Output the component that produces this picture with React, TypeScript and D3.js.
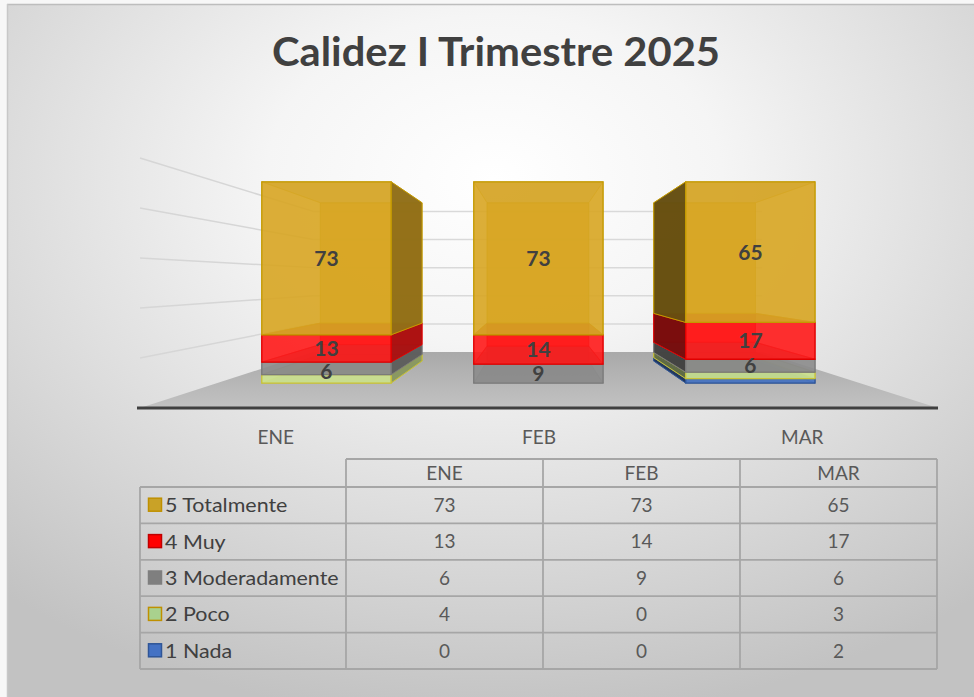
import React from "react";
import * as d3 from "d3";

const categories = ["ENE", "FEB", "MAR"];
const seriesNames = ["1 Nada", "2 Poco", "3 Moderadamente", "4 Muy", "5 Totalmente"];
const nada = [0, 0, 2];
const poco = [4, 0, 3];
const moderadamente = [6, 9, 6];
const muy = [13, 14, 17];
const totalmente = [73, 73, 65];
const seriesValues = [nada, poco, moderadamente, muy, totalmente];
const gridTicks = [0.2, 0.4, 0.6, 0.8, 1];
const title = "Calidez I Trimestre 2025";

const seriesFill = ["#4472C4", "#CDE38F", "#8C8C8C", "#FF1A1A", "#D8A623"];
const seriesEdge = ["#2F5597", "#C9C236", "#7A7A7A", "#E00000", "#C49A00"];
const legendFill = ["#4472C4", "#A9D18E", "#7F7F7F", "#FF0000", "#C9A227"];
const legendEdge = ["#2F5597", "#BF9000", "#7F7F7F", "#C00000", "#BF9000"];

const FONT = "Lato, 'Open Sans', sans-serif";

type P = [number, number];

export default function App() {
  const W = 974, H = 697;
  const VP: P = [536, 280];
  const S_BAR_FRONT = 0.805, S_BAR_BACK = 0.633, S_WALL = 0.5625;
  const floorLeft = 140, floorRight = 938;
  const x = d3.scaleBand<string>().domain(categories).range([144, 934]);
  const barW = x.bandwidth() * 0.61;
  const y = d3.scaleLinear().domain([0, 1]).range([408, 158]);
  const proj = (X: number, Y: number, s: number): P => [VP[0] + (X - VP[0]) * s, VP[1] + (Y - VP[1]) * s];
  const poly = (pts: P[]) => "M" + pts.map((p) => p[0].toFixed(2) + "," + p[1].toFixed(2)).join("L") + "Z";

  const rows = categories.map((c, i) => {
    const o: any = { cat: c };
    seriesNames.forEach((n, j) => (o[n] = seriesValues[j][i]));
    return o;
  });
  const stacked = d3.stack<any>().keys(seriesNames).offset(d3.stackOffsetExpand)(rows);

  const floorPts: P[] = [
    proj(floorLeft, y(0), 1),
    proj(floorRight, y(0), 1),
    proj(floorRight, y(0), S_WALL),
    proj(floorLeft, y(0), S_WALL),
  ];

  const bars: React.ReactNode[] = [];
  const labels: React.ReactNode[] = [];
  const LABEL_GAP = 23;
  categories.forEach((c, i) => {
    const X0 = (x(c) as number) + (x.bandwidth() - barW) / 2;
    const X1 = X0 + barW;
    const catLabels: { key: string; x: number; y: number; v: number }[] = [];
    seriesNames.forEach((n, j) => {
      const [lo, hi] = stacked[j][i];
      const v = seriesValues[j][i];
      if (v <= 0) return;
      const Y0 = y(lo), Y1 = y(hi);
      const sf = S_BAR_FRONT, sb = S_BAR_BACK;
      const base = seriesFill[j];
      const edge = seriesEdge[j];
      const key = `${c}-${n}`;
      const back: P[] = [proj(X0, Y1, sb), proj(X1, Y1, sb), proj(X1, Y0, sb), proj(X0, Y0, sb)];
      const bottom: P[] = [proj(X0, Y0, sf), proj(X1, Y0, sf), proj(X1, Y0, sb), proj(X0, Y0, sb)];
      const top: P[] = [proj(X0, Y1, sf), proj(X1, Y1, sf), proj(X1, Y1, sb), proj(X0, Y1, sb)];
      const left: P[] = [proj(X0, Y1, sf), proj(X0, Y1, sb), proj(X0, Y0, sb), proj(X0, Y0, sf)];
      const right: P[] = [proj(X1, Y1, sf), proj(X1, Y1, sb), proj(X1, Y0, sb), proj(X1, Y0, sf)];
      const front: P[] = [proj(X0, Y1, sf), proj(X1, Y1, sf), proj(X1, Y0, sf), proj(X0, Y0, sf)];
      const leftExterior = X0 > VP[0];
      const rightExterior = X1 < VP[0];
      const darkTB = d3.color(base)!.darker(0.6).formatHex();
      bars.push(
        <g key={key}>
          <path d={poly(back)} fill={base} fillOpacity={0.9} stroke={edge} strokeWidth={1} strokeOpacity={0.6} />
          <path d={poly(bottom)} fill={darkTB} fillOpacity={0.5} stroke={edge} strokeWidth={0.8} strokeOpacity={0.5} />
          <path d={poly(top)} fill={darkTB} fillOpacity={0.5} stroke={edge} strokeWidth={0.8} strokeOpacity={0.5} />
          {!leftExterior && <path d={poly(left)} fill={base} fillOpacity={0.4} stroke={edge} strokeWidth={0.8} strokeOpacity={0.5} />}
          {!rightExterior && <path d={poly(right)} fill={base} fillOpacity={0.4} stroke={edge} strokeWidth={0.8} strokeOpacity={0.5} />}
          {leftExterior && <path d={poly(left)} fill={d3.color(base)!.darker(2.2).formatHex()} fillOpacity={0.95} stroke={edge} strokeWidth={1} />}
          {rightExterior && <path d={poly(right)} fill={d3.color(base)!.darker(1.15).formatHex()} fillOpacity={0.95} stroke={edge} strokeWidth={1} />}
          <path d={poly(front)} fill={base} fillOpacity={0.84} stroke={edge} strokeWidth={1.3} />
        </g>
      );
      if (v >= 5) {
        const [lx, ly] = proj((X0 + X1) / 2, (Y0 + Y1) / 2, sf);
        catLabels.push({ key: "l" + key, x: lx, y: ly, v });
      }
    });
    // labels are pushed apart (top one kept, lower ones moved down) so they do not collide
    const ordered = catLabels.slice().sort((a, b) => a.y - b.y);
    for (let k = 1; k < ordered.length; k++) {
      if (ordered[k].y - ordered[k - 1].y < LABEL_GAP) ordered[k].y = ordered[k - 1].y + LABEL_GAP;
    }
    ordered.forEach((l) =>
      labels.push(
        <text key={l.key} x={l.x} y={l.y} dy="0.36em" textAnchor="middle" fontFamily={FONT} fontWeight={700} fontSize={21} fill="#404040">
          {l.v}
        </text>
      )
    );
  });

  const tLeft = 140, tColStart = 346, tRight = 937;
  const colX = d3.scaleBand<string>().domain(categories).range([tColStart, tRight]);
  const headerTop = 459, headerBottom = 487;
  const rowOrder = [4, 3, 2, 1, 0];
  const rowY = d3.scaleBand<number>().domain(rowOrder).range([headerBottom, 669]);
  const gridColor = "#A6A6A6";

  return (
    <svg width={W} height={H} style={{ position: "absolute", left: 0, top: 0 }} xmlns="http://www.w3.org/2000/svg">
      <defs>
        <radialGradient id="bg" cx="0.5" cy="0.25" r="0.78">
          <stop offset="0" stopColor="#ffffff" />
          <stop offset="0.3" stopColor="#f5f5f5" />
          <stop offset="0.7" stopColor="#d8d8d8" />
          <stop offset="1" stopColor="#c2c2c2" />
        </radialGradient>
        <linearGradient id="floorG" x1="0" y1="0" x2="0" y2="1">
          <stop offset="0" stopColor="#a9a9a9" />
          <stop offset="1" stopColor="#c2c2c2" />
        </linearGradient>
      </defs>
      <rect x={0} y={0} width={W} height={H} fill="#f7f7f7" />
      <rect x={7} y={4} width={W} height={H} fill="url(#bg)" />
      <line x1={7} y1={4.5} x2={W} y2={4.5} stroke="#bdbdbd" strokeWidth={1.5} />
      <line x1={7.5} y1={4} x2={7.5} y2={H} stroke="#c8c8c8" strokeWidth={1.5} />

      <text x={496} y={66} textAnchor="middle" fontFamily={FONT} fontWeight={700} fontSize={40} fill="#404040" textLength={448} lengthAdjust="spacingAndGlyphs">
        {title}
      </text>

      <path d={poly(floorPts)} fill="url(#floorG)" />

      {gridTicks.map((t) => {
        const a = proj(floorLeft, y(t), 1);
        const b = proj(floorLeft, y(t), S_WALL);
        return <line key={"lw" + t} x1={a[0]} y1={a[1]} x2={b[0]} y2={b[1]} stroke="#d6d6d6" strokeWidth={1.5} />;
      })}
      {gridTicks.map((t) => {
        const a = proj(floorLeft, y(t), S_WALL);
        const b = proj(floorRight, y(t), S_WALL);
        return <line key={"bw" + t} x1={a[0]} y1={a[1]} x2={b[0]} y2={b[1]} stroke="#d9d9d9" strokeWidth={1.5} />;
      })}

      <line x1={floorLeft - 3} y1={y(0)} x2={floorRight} y2={y(0)} stroke="#404040" strokeWidth={3} />

      {bars}
      {labels}

      {categories.map((c) => (
        <text key={"ax" + c} x={(x(c) as number) + x.bandwidth() / 2} y={437} dy="0.35em" textAnchor="middle" fontFamily={FONT} fontSize={19} fill="#595959">
          {c}
        </text>
      ))}

      <g stroke={gridColor} strokeWidth={1.8} fill="none">
        <line x1={tColStart} y1={headerTop} x2={tRight} y2={headerTop} />
        <line x1={tLeft} y1={headerBottom} x2={tRight} y2={headerBottom} />
        {rowOrder.map((j) => (
          <line key={"rl" + j} x1={tLeft} y1={(rowY(j) as number) + rowY.bandwidth()} x2={tRight} y2={(rowY(j) as number) + rowY.bandwidth()} />
        ))}
        <line x1={tLeft} y1={headerBottom} x2={tLeft} y2={669} />
        {categories.map((c) => (
          <line key={"cl" + c} x1={colX(c)} y1={headerTop} x2={colX(c)} y2={669} />
        ))}
        <line x1={tRight} y1={headerTop} x2={tRight} y2={669} />
      </g>
      {categories.map((c) => (
        <text key={"th" + c} x={(colX(c) as number) + colX.bandwidth() / 2} y={(headerTop + headerBottom) / 2} dy="0.36em" textAnchor="middle" fontFamily={FONT} fontSize={19} fill="#595959">
          {c}
        </text>
      ))}
      {rowOrder.map((j) => {
        const ry = (rowY(j) as number) + rowY.bandwidth() / 2;
        return (
          <g key={"row" + j}>
            <rect x={148.5} y={ry - 7} width={13} height={13} fill={legendFill[j]} stroke={legendEdge[j]} strokeWidth={1.5} />
            <text transform={`translate(165,${ry}) scale(1.1,1)`} dy="0.36em" fontFamily={FONT} fontSize={19.5} fill="#404040">
              {seriesNames[j]}
            </text>
            {categories.map((c, i) => (
              <text key={"v" + c} x={(colX(c) as number) + colX.bandwidth() / 2} y={ry} dy="0.36em" textAnchor="middle" fontFamily={FONT} fontSize={19} fill="#595959">
                {seriesValues[j][i]}
              </text>
            ))}
          </g>
        );
      })}
    </svg>
  );
}
